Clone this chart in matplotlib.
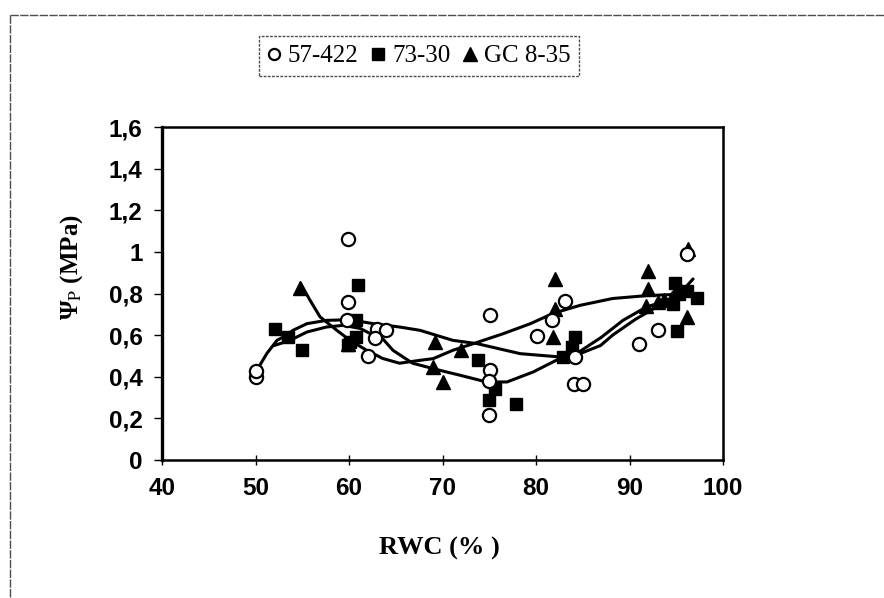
import matplotlib

matplotlib.use("Agg")

from matplotlib import pyplot as plt
from matplotlib.font_manager import FontProperties
from matplotlib.lines import Line2D

# --- data --------------------------------------------------------------
# 57-422 (open circles)
rwc_57 = [50.0, 50.0, 59.9, 59.9, 59.8, 62.0, 63.0, 64.0, 62.8, 75.1, 75.1,
          75.0, 75.0, 80.1, 81.7, 83.1, 84.1, 85.0, 84.2, 91.0, 93.0, 96.1]
psi_57 = [0.40, 0.43, 1.06, 0.76, 0.675, 0.50, 0.63, 0.625, 0.585, 0.695, 0.434,
          0.378, 0.216, 0.594, 0.675, 0.766, 0.367, 0.367, 0.495, 0.556, 0.623, 0.99]

# 73-30 (filled squares)
rwc_73 = [52.1, 53.5, 55.0, 61.0, 60.8, 60.8, 59.9, 60.1, 73.8, 75.6, 75.0,
          77.9, 84.2, 83.8, 82.9, 94.9, 95.3, 96.1, 97.2, 94.7, 95.05]
psi_73 = [0.631, 0.591, 0.530, 0.843, 0.671, 0.591, 0.551, 0.567, 0.479, 0.343, 0.287,
          0.268, 0.591, 0.543, 0.495, 0.85, 0.80, 0.81, 0.78, 0.75, 0.62]

# GC 8-35 (filled triangles)
rwc_gc = [54.8, 59.9, 69.2, 72.0, 69.0, 70.1, 81.8, 82.0, 82.0, 92.0, 92.0,
          91.8, 93.0, 93.7, 94.5, 96.1, 96.3]
psi_gc = [0.825, 0.555, 0.567, 0.527, 0.447, 0.375, 0.591, 0.727, 0.870, 0.91, 0.822,
          0.742, 0.76, 0.77, 0.78, 0.686, 1.015]

# trend curves
trend_57_x = [50.0, 51.2, 52.3, 53.3, 54.0, 55.5, 57.6, 60.1, 62.6, 65.4, 67.6, 71.1,
              73.7, 78.3, 82.6, 84.7, 86.9, 88.2, 90.6, 92.9, 94.7, 96.0, 96.8]
trend_57_y = [0.42, 0.511, 0.575, 0.599, 0.623, 0.655, 0.671, 0.674, 0.655, 0.639, 0.623, 0.575,
              0.559, 0.511, 0.495, 0.511, 0.55, 0.60, 0.675, 0.735, 0.776, 0.83, 0.87]

trend_73_x = [52.0, 53.7, 55.5, 57.6, 59.4, 61.2, 62.6, 63.6, 64.7, 66.8, 69.7, 71.9,
              74.7, 76.9, 79.7, 82.6, 84.7, 87.0, 89.3, 91.8, 94.0, 96.0, 97.3]
trend_73_y = [0.55, 0.575, 0.615, 0.639, 0.647, 0.632, 0.60, 0.583, 0.527, 0.465, 0.431, 0.407,
              0.375, 0.375, 0.423, 0.489, 0.522, 0.59, 0.671, 0.735, 0.766, 0.79, 0.80]

trend_gc_x = [54.8, 55.8, 56.9, 58.7, 60.1, 61.9, 63.6, 65.4, 67.6, 69.0, 71.1, 73.3,
              76.5, 79.4, 81.8, 84.7, 88.2, 91.9, 94.6, 96.3]
trend_gc_y = [0.85, 0.77, 0.688, 0.623, 0.575, 0.527, 0.488, 0.465, 0.479, 0.487, 0.527, 0.559,
              0.607, 0.655, 0.704, 0.743, 0.776, 0.790, 0.795, 0.80]

x_ticks = [40, 50, 60, 70, 80, 90, 100]
y_ticks = [0, 0.2, 0.4, 0.6, 0.8, 1.0, 1.2, 1.4, 1.6]
y_tick_labels = ["0", "0,2", "0,4", "0,6", "0,8", "1", "1,2", "1,4", "1,6"]

# --- figure -------------------------------------------------------------
W, H = 884, 598
fig = plt.figure(figsize=(W / 100, H / 100), dpi=100)
ax = fig.add_axes([162 / W, 1 - 460 / H, (723 - 162) / W, (460 - 127) / H])

line_kw = dict(color="black", linewidth=2.2, solid_capstyle="round", zorder=2)
ax.plot(trend_57_x, trend_57_y, **line_kw)
ax.plot(trend_73_x, trend_73_y, **line_kw)
ax.plot(trend_gc_x, trend_gc_y, **line_kw)

ax.plot(rwc_73, psi_73, linestyle="none", marker="s", markersize=9,
        color="black", zorder=3, label="73-30")
ax.plot(rwc_gc, psi_gc, linestyle="none", marker="^", markersize=10,
        color="black", zorder=3, label="GC 8-35")
ax.plot(rwc_57, psi_57, linestyle="none", marker="o", markersize=9.5,
        markerfacecolor="white", markeredgecolor="black", markeredgewidth=1.6,
        zorder=4, label="57-422")

ax.set_xlim(40, 100)
ax.set_ylim(0, 1.6)
ax.set_xticks(x_ticks)
ax.set_xticklabels([str(v) for v in x_ticks])
ax.set_yticks(y_ticks)
ax.set_yticklabels(y_tick_labels)

tick_font = FontProperties(family="Liberation Sans", weight="bold", size=17.5)
for lab in ax.get_xticklabels() + ax.get_yticklabels():
    lab.set_fontproperties(tick_font)

ax.tick_params(axis="x", direction="inout", length=7, width=1.0, pad=9)
ax.tick_params(axis="y", direction="out", length=6, width=1.0, pad=8)
for side in ("top", "right", "bottom"):
    ax.spines[side].set_linewidth(1.8)
ax.spines["left"].set_linewidth(2.4)

fig.text(439 / W, 1 - 548 / H, "RWC (% )", ha="center", va="center",
         family="Liberation Serif", weight="bold", fontsize=19)
fig.text(72 / W, 1 - 267 / H, "Ψ$_{\\mathrm{P}}$ (MPa)", rotation=90,
         ha="center", va="center", family="Liberation Serif", weight="bold", fontsize=18,
         math_fontfamily="stix")

# legend along the top
handles = [
    Line2D([], [], linestyle="none", marker="o", markersize=8, markerfacecolor="white",
           markeredgecolor="black", markeredgewidth=1.6),
    Line2D([], [], linestyle="none", marker="s", markersize=9, color="black"),
    Line2D([], [], linestyle="none", marker="^", markersize=10, color="black"),
]
leg = fig.legend(handles, ["57-422", "73-30", "GC 8-35"], ncol=3,
                 loc="center", bbox_to_anchor=(419 / W, 1 - 56 / H),
                 prop=dict(family="Liberation Serif", size=18),
                 handlelength=0.5, handletextpad=0.3, columnspacing=0.55,
                 borderpad=0.35, borderaxespad=0, fancybox=False, framealpha=1)
leg.get_frame().set_edgecolor("0.3")
leg.get_frame().set_linestyle((0, (2, 1)))
leg.get_frame().set_linewidth(1.0)

# outer frame (top and left edges only visible)
frame_kw = dict(color="0.3", linewidth=1.0, linestyle=(0, (6, 1)), transform=fig.transFigure)
fig.add_artist(Line2D([10 / W, 1.0], [1 - 15 / H, 1 - 15 / H], **frame_kw))
fig.add_artist(Line2D([10 / W, 10 / W], [1 - 15 / H, 0.0], **frame_kw))

fig.savefig("out.png", dpi=100)
